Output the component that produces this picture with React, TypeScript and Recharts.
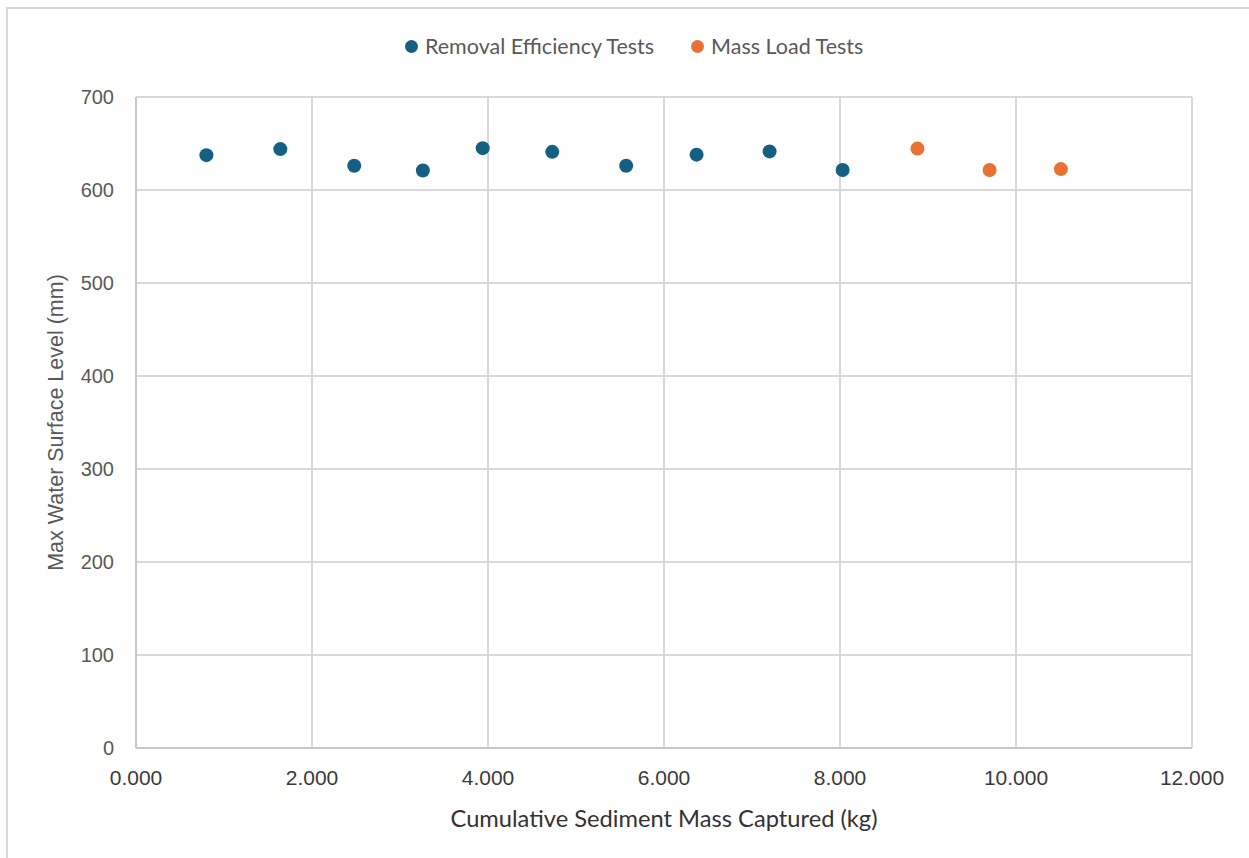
import React from "react"
import { ScatterChart, Scatter, XAxis, YAxis, CartesianGrid, Legend, Label } from "recharts"

/* ── Data ── */
const removalMass = [0.8, 1.64, 2.48, 3.26, 3.94, 4.73, 5.57, 6.37, 7.2, 8.03]
const removalLevel = [637.5, 644, 626, 621, 645, 641, 626, 638, 641.5, 621.5]
const massLoadMass = [8.88, 9.7, 10.51]
const massLoadLevel = [644.5, 621.5, 622.5]
const xTicks = [0, 2, 4, 6, 8, 10, 12]
const yTicks = [0, 100, 200, 300, 400, 500, 600, 700]

const BLUE = "#156082"
const ORANGE = "#E97132"
const SANS = "'Liberation Sans', Arial, sans-serif"
const APTOS = "Lato, 'Noto Sans', sans-serif"

const removalData = removalMass.map((x, i) => ({ x, y: removalLevel[i] }))
const massLoadData = massLoadMass.map((x, i) => ({ x, y: massLoadLevel[i] }))

const dot = (color: string) => (p: any) => <circle cx={p.cx} cy={p.cy} r={7} fill={color} />

function LegendContent() {
  const item = (label: string, color: string) => (
    <span style={{ display: "flex", alignItems: "center", gap: 7 }}>
      <span style={{ width: 13, height: 13, borderRadius: "50%", backgroundColor: color }} />
      {label}
    </span>
  )
  return (
    <div
      style={{
        height: 70,
        display: "flex",
        alignItems: "flex-start",
        paddingLeft: 405,
        gap: 37,
        fontFamily: APTOS,
        fontSize: 21.5,
        lineHeight: "38px",
        color: "#595959",
      }}
    >
      {item("Removal Efficiency Tests", BLUE)}
      {item("Mass Load Tests", ORANGE)}
    </div>
  )
}

export default function App() {
  return (
    <div style={{ position: "absolute", left: 0, top: 0, width: 1249, height: 858, background: "#fff" }}>
      <div
        style={{
          position: "absolute",
          left: 6,
          top: 7,
          width: 1300,
          height: 900,
          borderLeft: "2px solid #d9d9d9",
          borderTop: "2px solid #d9d9d9",
        }}
      />
      <div style={{ position: "absolute", left: 0, top: 0 }}>
        <ScatterChart width={1249} height={858} margin={{ top: 27, right: 57, bottom: 0, left: 0 }}>
          <CartesianGrid stroke="#d9d9d9" strokeWidth={2} />
          <XAxis
            type="number"
            dataKey="x"
            domain={[0, 12]}
            ticks={xTicks}
            tickFormatter={(v: number) => v.toFixed(3)}
            height={110}
            axisLine={{ stroke: "#c8c8c8", strokeWidth: 2 }}
            tickLine={false}
            tickMargin={16}
            tick={{ fontSize: 21, fill: "#3a3a3a", fontFamily: SANS }}
          >
            <Label
              content={({ viewBox }: any) => (
                <text
                  x={viewBox.x + viewBox.width / 2}
                  y={viewBox.y + 70}
                  textAnchor="middle"
                  dominantBaseline="central"
                  fontFamily={APTOS}
                  fontSize={23.7}
                  fill="#333"
                >
                  Cumulative Sediment Mass Captured (kg)
                </text>
              )}
            />
          </XAxis>
          <YAxis
            type="number"
            dataKey="y"
            domain={[0, 700]}
            ticks={yTicks}
            width={136}
            axisLine={{ stroke: "#c8c8c8", strokeWidth: 2 }}
            tickLine={false}
            tickMargin={16}
            tick={{ fontSize: 20, fill: "#595959", fontFamily: SANS }}
          >
            <Label
              content={({ viewBox }: any) => {
                const cx = viewBox.x + 56
                const cy = viewBox.y + viewBox.height / 2
                return (
                  <text
                    x={cx}
                    y={cy}
                    transform={`rotate(-90 ${cx} ${cy})`}
                    textAnchor="middle"
                    dominantBaseline="central"
                    fontFamily={SANS}
                    fontSize={21.5}
                    fill="#595959"
                  >
                    Max Water Surface Level (mm)
                  </text>
                )
              }}
            />
          </YAxis>
          <Legend verticalAlign="top" wrapperStyle={{ left: 0, width: 1249 }} content={() => <LegendContent />} />
          <Scatter name="Removal Efficiency Tests" data={removalData} fill={BLUE} shape={dot(BLUE)} isAnimationActive={false} />
          <Scatter name="Mass Load Tests" data={massLoadData} fill={ORANGE} shape={dot(ORANGE)} isAnimationActive={false} />
        </ScatterChart>
      </div>
    </div>
  )
}
